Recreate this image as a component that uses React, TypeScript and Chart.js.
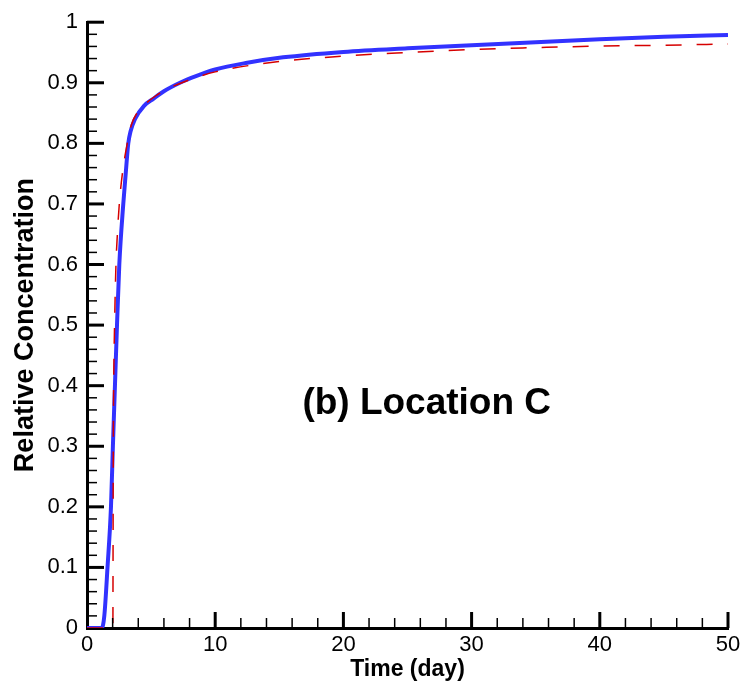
import { useEffect, useRef } from "react";
import { Chart, registerables } from "chart.js";

Chart.register(...registerables);

// Simulated (blue, solid) breakthrough curve
const simTime = [0, 1.15, 1.35, 1.6, 1.87, 2.02, 2.18, 2.34, 2.52, 2.83, 3.02, 3.22, 3.4, 3.74, 4.45, 5.2, 6, 7.25, 8.5, 10, 12.5, 15.3, 20, 25, 30, 35, 40, 45, 50];
const simConc = [0, 0, 0.02, 0.1, 0.2, 0.3, 0.4, 0.5, 0.6, 0.7, 0.75, 0.8, 0.82, 0.84, 0.862, 0.874, 0.886, 0.9, 0.911, 0.922, 0.933, 0.942, 0.951, 0.957, 0.962, 0.967, 0.972, 0.976, 0.979];

// Reference (red, dashed) breakthrough curve
const refTime = [0, 2.02, 2.03, 2.05, 2.08, 2.15, 2.26, 2.37, 2.52, 2.76, 3.14, 3.45, 3.9, 4.6, 5.4, 6.2, 7.5, 10, 15, 20, 25, 30, 35, 40, 45, 50];
const refConc = [0, 0, 0.1, 0.3, 0.4, 0.5, 0.6, 0.65, 0.7, 0.75, 0.8, 0.83, 0.85, 0.866, 0.879, 0.889, 0.901, 0.918, 0.935, 0.944, 0.95, 0.955, 0.958, 0.9605, 0.962, 0.964];

const xTickValues = [0, 10, 20, 30, 40, 50];
const xTickLabels = ["0", "10", "20", "30", "40", "50"];
const yTickValues = [0, 0.1, 0.2, 0.3, 0.4, 0.5, 0.6, 0.7, 0.8, 0.9, 1];
const yTickLabels = ["0", "0.1", "0.2", "0.3", "0.4", "0.5", "0.6", "0.7", "0.8", "0.9", "1"];

const xTitle = "Time (day)";
const yTitle = "Relative Concentration";
const annotationText = "(b) Location C";
const annotationX = 26.5;
const annotationY = 0.353;

const FONT = "'Liberation Sans', Arial, Helvetica, sans-serif";

const innerTicks = {
  id: "innerTicks",
  afterDatasetsDraw(chart: any) {
    const { ctx, chartArea, scales } = chart;
    const x = scales.x;
    const y = scales.y;
    const { left, bottom } = chartArea;
    ctx.save();
    ctx.strokeStyle = "#000";
    const seg = (x1: number, y1: number, x2: number, y2: number) => {
      ctx.beginPath();
      ctx.moveTo(x1, y1);
      ctx.lineTo(x2, y2);
      ctx.stroke();
    };
    // major ticks
    ctx.lineWidth = 3;
    for (const v of yTickValues) {
      if (v === 0) continue;
      const py = y.getPixelForValue(v);
      seg(left, py, left + 17, py);
    }
    for (const v of xTickValues) {
      if (v === 0) continue;
      const px = x.getPixelForValue(v);
      seg(px, bottom, px, bottom - 16);
    }
    // minor ticks
    ctx.lineWidth = 1.5;
    for (let k = 1; k < 50; k++) {
      if (k % 5 === 0) continue;
      const py = y.getPixelForValue(k * 0.02);
      seg(left, py, left + 10, py);
    }
    for (let k = 1; k < 25; k++) {
      if (k % 5 === 0) continue;
      const px = x.getPixelForValue(k * 2);
      seg(px, bottom, px, bottom - 10);
    }
    ctx.restore();
  },
};

const annotation = {
  id: "annotation",
  afterDraw(chart: any) {
    const { ctx, scales } = chart;
    ctx.save();
    ctx.font = `bold 37px ${FONT}`;
    ctx.fillStyle = "#000";
    ctx.textAlign = "center";
    ctx.textBaseline = "alphabetic";
    ctx.fillText(annotationText, scales.x.getPixelForValue(annotationX), scales.y.getPixelForValue(annotationY));
    ctx.restore();
  },
};

export default function App() {
  const canvasRef = useRef<HTMLCanvasElement | null>(null);

  useEffect(() => {
    document.body.style.margin = "0";
    const canvas = canvasRef.current;
    if (!canvas) return;
    const chart = new Chart(canvas, {
      type: "line",
      data: {
        datasets: [
          {
            label: "Reference",
            data: refTime.map((t, i) => ({ x: t, y: refConc[i] })),
            borderColor: "rgb(214,0,0)",
            borderWidth: 1.5,
            borderDash: [16, 15],
            pointRadius: 0,
            fill: false,
            cubicInterpolationMode: "monotone",
          },
          {
            label: "Simulated",
            data: simTime.map((t, i) => ({ x: t, y: simConc[i] })),
            borderColor: "rgb(50,50,255)",
            borderWidth: 4,
            pointRadius: 0,
            fill: false,
            cubicInterpolationMode: "monotone",
          },
        ],
      },
      options: {
        responsive: false,
        animation: false,
        devicePixelRatio: 1,
        layout: { padding: { left: 0, right: 19, top: 20, bottom: 0 } },
        plugins: {
          legend: { display: false },
          tooltip: { enabled: false },
        },
        scales: {
          x: {
            type: "linear",
            min: 0,
            max: 50,
            afterBuildTicks: (s: any) => {
              s.ticks = xTickValues.map((v) => ({ value: v }));
            },
            afterFit: (s: any) => {
              s.height = 61;
            },
            ticks: {
              autoSkip: false,
              maxRotation: 0,
              padding: 4,
              color: "#000",
              font: { family: FONT, size: 22 },
              callback: (v: any) => xTickLabels[xTickValues.indexOf(Number(v))] ?? "",
            },
            grid: { display: false, drawTicks: false },
            border: { display: true, width: 3, color: "#000" },
            title: {
              display: true,
              text: xTitle,
              color: "#000",
              font: { family: FONT, size: 23, weight: "bold" },
              padding: { top: 0, bottom: 6 },
            },
          },
          y: {
            type: "linear",
            min: 0,
            max: 1,
            afterBuildTicks: (s: any) => {
              s.ticks = yTickValues.map((v) => ({ value: v }));
            },
            afterFit: (s: any) => {
              s.width = 87;
            },
            ticks: {
              autoSkip: false,
              padding: 9,
              color: "#000",
              font: { family: FONT, size: 22 },
              callback: (v: any) => {
                const idx = yTickValues.findIndex((t) => Math.abs(t - Number(v)) < 1e-9);
                return idx >= 0 ? yTickLabels[idx] : "";
              },
            },
            grid: { display: false, drawTicks: false },
            border: { display: true, width: 3, color: "#000" },
            title: {
              display: true,
              text: yTitle,
              color: "#000",
              font: { family: FONT, size: 27, weight: "bold" },
              padding: { top: 9, bottom: 0 },
            },
          },
        },
      },
      plugins: [innerTicks, annotation],
    } as any);
    return () => chart.destroy();
  }, []);

  return (
    <div style={{ width: 747, height: 689 }}>
      <canvas ref={canvasRef} width={747} height={689} />
    </div>
  );
}
